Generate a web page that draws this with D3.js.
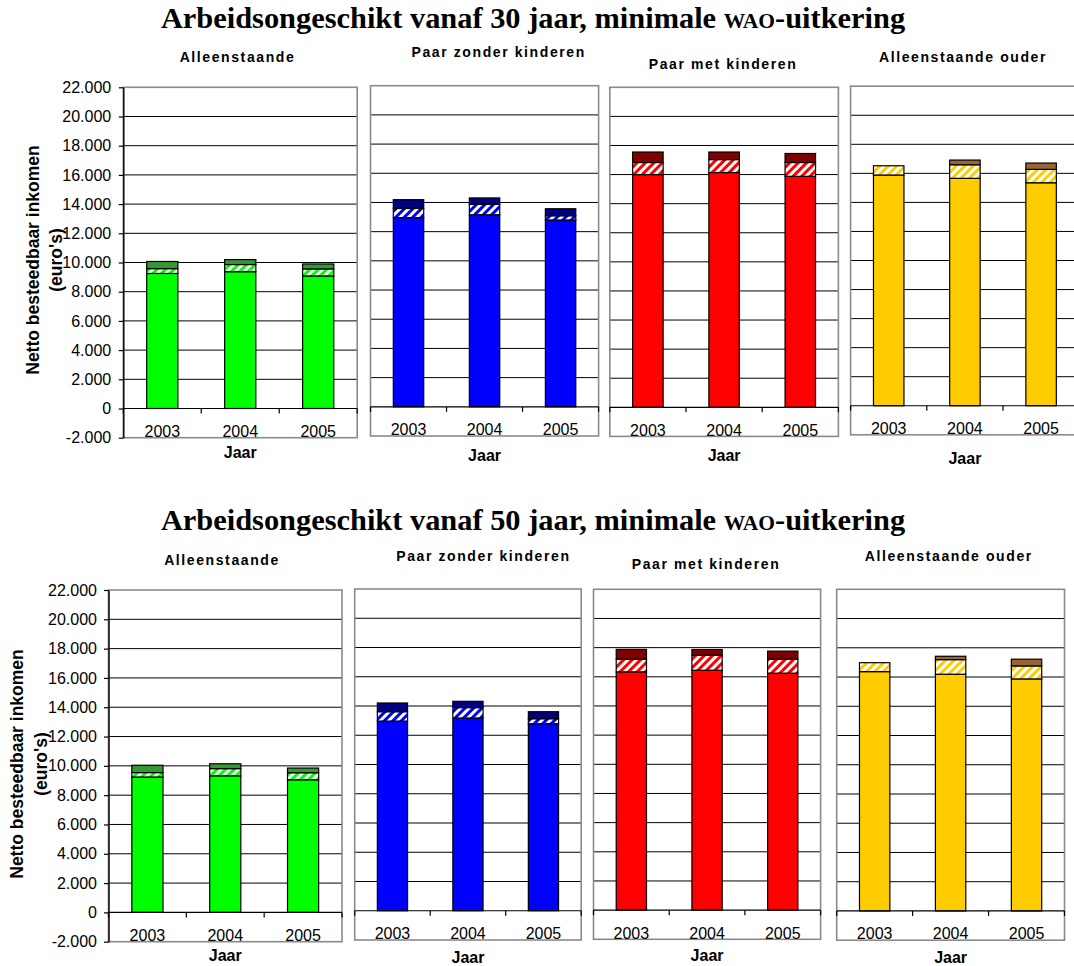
<!DOCTYPE html>
<html>
<head>
<meta charset="utf-8">
<script src="https://cdn.jsdelivr.net/npm/d3@7"></script>
<style>
  html, body { margin: 0; padding: 0; background: #fff; }
  svg { display: block; }
</style>
</head>
<body>
<svg id="chart" width="1074" height="966"></svg>
<script>
// ---------------- DATA ----------------
const years = ["2003", "2004", "2005"];
const householdTypes = ["Alleenstaande", "Paar zonder kinderen", "Paar met kinderen", "Alleenstaande ouder"];
const chartTitles = [
  "Arbeidsongeschikt vanaf 30 jaar, minimale WAO-uitkering",
  "Arbeidsongeschikt vanaf 50 jaar, minimale WAO-uitkering"
];
const yAxisTitle = ["Netto besteedbaar inkomen", "(euro's)"];
const xAxisTitle = "Jaar";
const yTicks = [-2000, 0, 2000, 4000, 6000, 8000, 10000, 12000, 14000, 16000, 18000, 20000, 22000];

// 30 jaar: per household type, per year (2003, 2004, 2005)
const base30 = [[9250, 9370, 9080], [12960, 13160, 12800], [16000, 16140, 15880], [15885, 15656, 15353]];
const mid30  = [[330, 490, 480],    [630, 710, 290],       [830, 890, 950],       [638, 936, 922]];
const top30  = [[490, 340, 340],    [600, 440, 480],       [720, 520, 620],       [0, 323, 434]];

// 50 jaar
const base50 = [[9240, 9320, 9050], [12970, 13180, 12790], [16340, 16450, 16250], [16370, 16190, 15870]];
const mid50  = [[300, 490, 480],    [640, 710, 340],       [870, 1030, 960],      [610, 1000, 890]];
const top50  = [[500, 330, 320],    [595, 430, 480],       [670, 390, 550],       [0, 230, 460]];

// ---------------- STYLE / LAYOUT ----------------
const baseColors = ["#00ff00", "#0000ff", "#ff0000", "#ffcc00"];
const darkColors = ["#339933", "#000080", "#800000", "#996633"];

const layouts = [
  { titleY: 28.3, yTitleX: [38.6, 62], yTitleY: 260, tickRight: 111.2,
    panels: [
      { x0: 123.3, x1: 357.2, y0: 87.3, y1: 437.7, subX: 237.5, subY: 61.7, jaarY: 458.3 },
      { x0: 370.5, x1: 598.6, y0: 85.7, y1: 436.0, subX: 498.7, subY: 57.3, jaarY: 460.7 },
      { x0: 609.8, x1: 838.4, y0: 87.3, y1: 436.4, subX: 723.0, subY: 69.0, jaarY: 460.7 },
      { x0: 850.6, x1: 1079.2, y0: 86.2, y1: 434.8, subX: 963.0, subY: 62.3, jaarY: 463.5 }
    ] },
  { titleY: 530, yTitleX: [23.1, 47.2], yTitleY: 764, tickRight: 97.0,
    panels: [
      { x0: 108.5, x1: 342.0, y0: 590.0, y1: 941.7, subX: 222.0, subY: 565.0, jaarY: 960.5 },
      { x0: 354.7, x1: 581.2, y0: 589.0, y1: 940.0, subX: 483.4, subY: 560.7, jaarY: 962.7 },
      { x0: 593.5, x1: 820.6, y0: 589.3, y1: 939.3, subX: 706.0, subY: 569.0, jaarY: 960.7 },
      { x0: 836.7, x1: 1064.5, y0: 589.3, y1: 940.2, subX: 948.8, subY: 561.0, jaarY: 962.7 }
    ] }
];

const chartData = [
  { base: base30, mid: mid30, top: top30 },
  { base: base50, mid: mid50, top: top50 }
];

const SANS = "'Liberation Sans', Arial, sans-serif";
const SERIF = "'Liberation Serif', 'Times New Roman', serif";

const locale = d3.formatLocale({ decimal: ",", thousands: ".", grouping: [3], currency: ["", ""], minus: "-" });
const fmt = locale.format(",");

const svg = d3.select("#chart");
const defs = svg.append("defs");

// hatch patterns
baseColors.forEach((c, i) => {
  const p = defs.append("pattern")
    .attr("id", "hatch" + i)
    .attr("patternUnits", "userSpaceOnUse")
    .attr("width", 6).attr("height", 6)
    .attr("patternTransform", "rotate(45)");
  p.append("rect").attr("width", 6).attr("height", 6).attr("fill", "#fff");
  p.append("rect").attr("x", 0).attr("width", 3).attr("height", 6).attr("fill", c);
});

const keys = ["base", "mid", "top"];

layouts.forEach((L, ci) => {
  const D = chartData[ci];
  const g = svg.append("g");

  // main title with small-caps WAO
  const title = chartTitles[ci];
  const parts = title.split("WAO");
  const t = g.append("text")
    .attr("x", 533).attr("y", L.titleY)
    .attr("text-anchor", "middle")
    .attr("font-family", SERIF).attr("font-weight", "bold").attr("font-size", 30.4)
    .attr("fill", "#000");
  t.append("tspan").text(parts[0]);
  t.append("tspan").attr("font-size", 21.5).text("WAO");
  t.append("tspan").text(parts[1]);

  // y axis title
  yAxisTitle.forEach((s, k) => {
    g.append("text")
      .attr("transform", `translate(${L.yTitleX[k]},${L.yTitleY}) rotate(-90)`)
      .attr("text-anchor", "middle")
      .attr("font-family", SANS).attr("font-weight", "bold").attr("font-size", 17.5)
      .text(s);
  });

  L.panels.forEach((P, pi) => {
    const pg = g.append("g");
    const y = d3.scaleLinear().domain([-2000, 22000]).range([P.y1, P.y0]);
    const x = d3.scaleBand().domain(years).range([P.x0, P.x1]).paddingInner(0.6).paddingOuter(0.3);

    // subtitle
    pg.append("text")
      .attr("x", P.subX).attr("y", P.subY)
      .attr("text-anchor", "middle")
      .attr("font-family", SANS).attr("font-weight", "bold").attr("font-size", 14)
      .attr("letter-spacing", "1.6px")
      .text(householdTypes[pi]);

    // gridlines
    pg.selectAll("line.grid")
      .data(yTicks.filter(v => v > 0 && v < 22000))
      .join("line")
      .attr("x1", P.x0).attr("x2", P.x1)
      .attr("y1", d => y(d)).attr("y2", d => y(d))
      .attr("stroke", "#000").attr("stroke-width", 1);

    // plot border
    pg.append("rect")
      .attr("x", P.x0).attr("y", P.y0)
      .attr("width", P.x1 - P.x0).attr("height", P.y1 - P.y0)
      .attr("fill", "none").attr("stroke", "#8a8a8a").attr("stroke-width", 1.6);

    // stacked bars
    const rows = years.map((yr, j) => ({ year: yr, base: D.base[pi][j], mid: D.mid[pi][j], top: D.top[pi][j] }));
    const series = d3.stack().keys(keys)(rows);
    const fills = [baseColors[pi], `url(#hatch${pi})`, darkColors[pi]];
    series.forEach((s, k) => {
      pg.append("g").selectAll("rect")
        .data(s)
        .join("rect")
        .attr("x", d => x(d.data.year))
        .attr("width", x.bandwidth())
        .attr("y", d => y(d[1]))
        .attr("height", d => Math.max(0, y(d[0]) - y(d[1])))
        .attr("fill", fills[k])
        .attr("stroke", "#000").attr("stroke-width", 1.2);
    });

    // x axis line at 0 with boundary ticks
    const y0 = y(0);
    pg.append("line")
      .attr("x1", P.x0).attr("x2", P.x1).attr("y1", y0).attr("y2", y0)
      .attr("stroke", "#000").attr("stroke-width", 1.2);
    const step = x.step();
    const bounds = [0, 1, 2, 3].map(k => P.x0 + (k === 3 ? (P.x1 - P.x0) : k * step));
    pg.selectAll("line.xt").data(bounds).join("line")
      .attr("x1", d => d).attr("x2", d => d)
      .attr("y1", y0).attr("y2", y0 + 5)
      .attr("stroke", "#000").attr("stroke-width", 1.2);

    // x tick labels
    pg.selectAll("text.xl").data(years).join("text")
      .attr("x", d => x(d) + x.bandwidth() / 2)
      .attr("y", P.y1 - 0.8)
      .attr("text-anchor", "middle")
      .attr("font-family", SANS).attr("font-size", 16)
      .text(d => d);

    // x axis title
    pg.append("text")
      .attr("x", (P.x0 + P.x1) / 2).attr("y", P.jaarY)
      .attr("text-anchor", "middle")
      .attr("font-family", SANS).attr("font-weight", "bold").attr("font-size", 16)
      .text(xAxisTitle);

    // y axis for first panel only
    if (pi === 0) {
      const ax = d3.axisLeft(y).tickValues(yTicks).tickSize(4.5).tickSizeOuter(0).tickPadding(P.x0 - 4.5 - L.tickRight).tickFormat(fmt);
      const ag = pg.append("g").attr("transform", `translate(${P.x0},0)`).call(ax);
      ag.select(".domain").attr("stroke", "#000").attr("stroke-width", 1.4);
      ag.selectAll(".tick line").attr("stroke", "#000").attr("stroke-width", 1.2);
      ag.selectAll(".tick text")
        .attr("font-family", SANS).attr("font-size", 16).attr("fill", "#000");
    }
  });
});
</script>
</body>
</html>
